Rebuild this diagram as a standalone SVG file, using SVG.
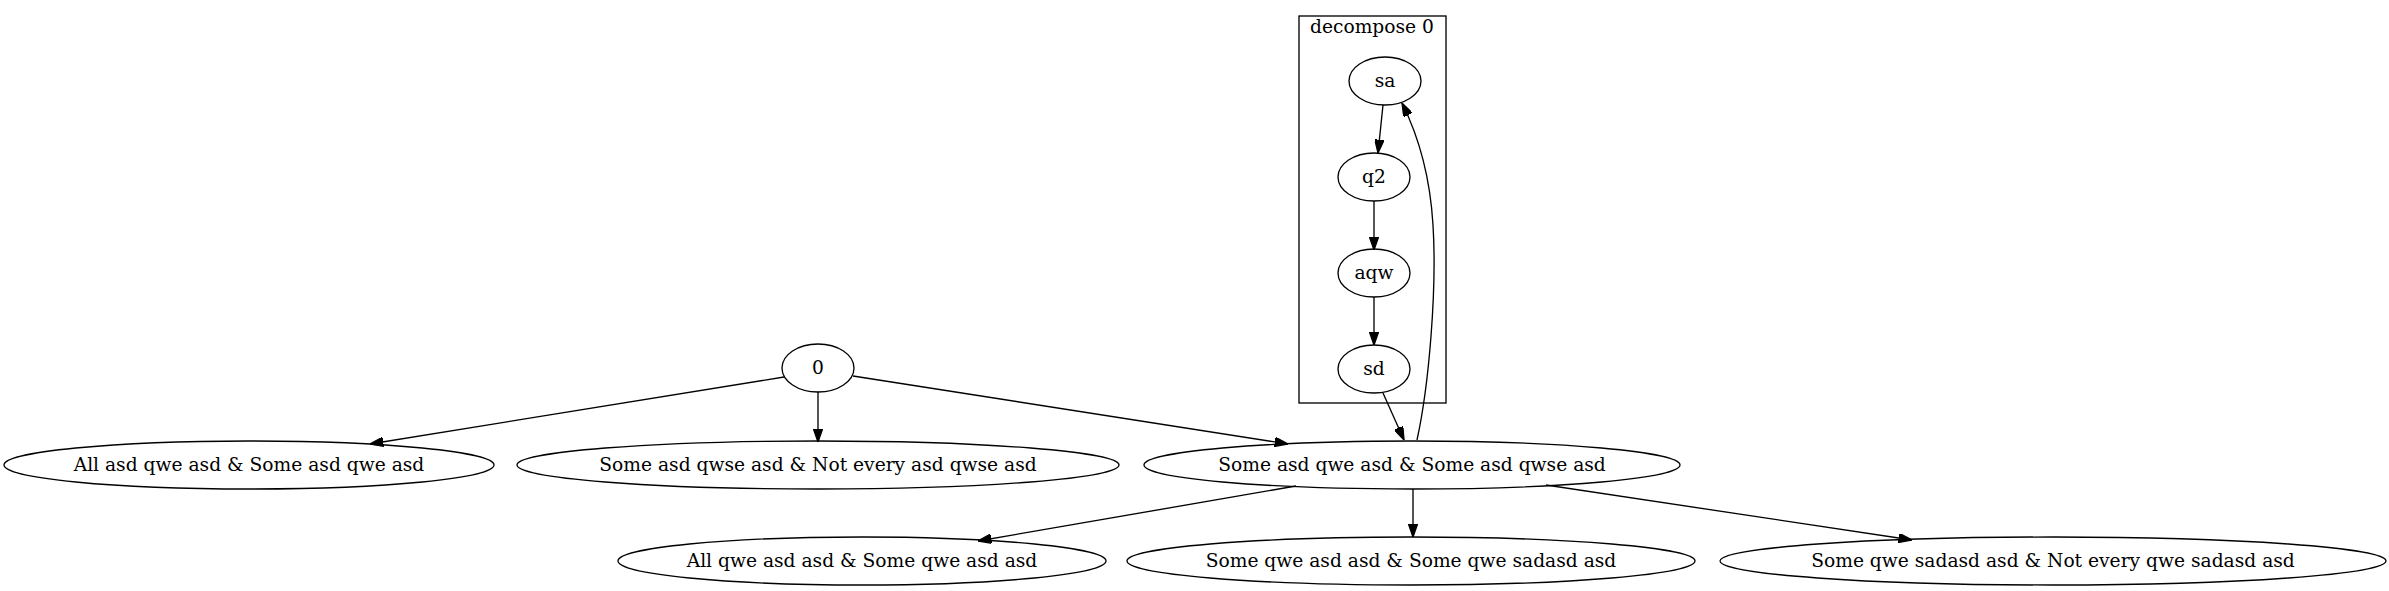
<svg xmlns="http://www.w3.org/2000/svg" width="2389" height="591" viewBox="0 0 2389 591">
<style>
.n ellipse{fill:none;stroke:#000;stroke-width:1.33}
text{font-family:"DejaVu Serif",serif;font-size:18.67px;fill:#000;text-anchor:middle}
.e path{fill:none;stroke:#000;stroke-width:1.33;marker-end:url(#ah)}
.cl{fill:none;stroke:#000;stroke-width:1.33}
</style>
<defs>
<marker id="ah" viewBox="0 0 10 7" refX="10" refY="3.5" markerWidth="13.3" markerHeight="9.3" markerUnits="userSpaceOnUse" orient="auto">
<path d="M0,0 L10,3.5 L0,7 z" fill="#000" stroke="#000"/>
</marker>
</defs>
<rect width="2389" height="591" fill="#fff"/>
<g id="cluster_decompose0">
<rect class="cl" x="1299" y="16" width="147" height="387"/>
<text x="1372" y="33">decompose 0</text>
</g>
<g id="connectors" class="e">
<path d="M1383,105 L1378,153"/>
<path d="M1374,201 L1374,250"/>
<path d="M1374,297 L1374,345"/>
<path d="M1383,393 L1404,440"/>
<path d="M1417,440 C1429,385 1437,290 1433,225 C1430,175 1418,135 1402,103"/>
<path d="M784,377 L370,444"/>
<path d="M818,392 L818,442"/>
<path d="M853,376 L1288,444"/>
<path d="M1296,486 L978,541"/>
<path d="M1413,489 L1413,537"/>
<path d="M1546,485 L1912,540"/>
</g>
<g id="n_sa" class="n"><ellipse cx="1385" cy="81" rx="36" ry="24"/><text x="1385" y="87">sa</text></g>
<g id="n_q2" class="n"><ellipse cx="1374" cy="177" rx="36" ry="24"/><text x="1374" y="183">q2</text></g>
<g id="n_aqw" class="n"><ellipse cx="1374" cy="273" rx="36" ry="24"/><text x="1374" y="279">aqw</text></g>
<g id="n_sd" class="n"><ellipse cx="1374" cy="369" rx="36" ry="24"/><text x="1374" y="375">sd</text></g>
<g id="n_0" class="n"><ellipse cx="818" cy="368" rx="36" ry="24"/><text x="818" y="374">0</text></g>
<g id="n_a1" class="n"><ellipse cx="249" cy="465" rx="245" ry="24"/><text x="249" y="471">All asd qwe asd &amp; Some asd qwe asd</text></g>
<g id="n_a2" class="n"><ellipse cx="818" cy="465" rx="301" ry="24"/><text x="818" y="471">Some asd qwse asd &amp; Not every asd qwse asd</text></g>
<g id="n_a3" class="n"><ellipse cx="1412" cy="465" rx="268" ry="24"/><text x="1412" y="471">Some asd qwe asd &amp; Some asd qwse asd</text></g>
<g id="n_b1" class="n"><ellipse cx="862" cy="561" rx="244" ry="24"/><text x="862" y="567">All qwe asd asd &amp; Some qwe asd asd</text></g>
<g id="n_b2" class="n"><ellipse cx="1411" cy="561" rx="284" ry="24"/><text x="1411" y="567">Some qwe asd asd &amp; Some qwe sadasd asd</text></g>
<g id="n_b3" class="n"><ellipse cx="2053" cy="561" rx="333" ry="24"/><text x="2053" y="567">Some qwe sadasd asd &amp; Not every qwe sadasd asd</text></g>
</svg>
